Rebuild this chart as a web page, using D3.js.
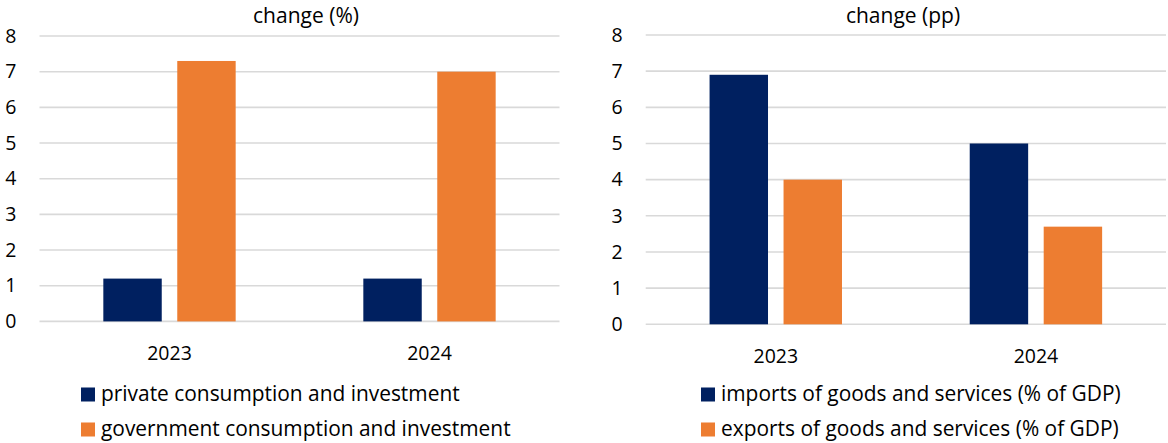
<!DOCTYPE html>
<html>
<head>
<meta charset="utf-8">
<script src="https://cdn.jsdelivr.net/npm/d3@7"></script>
<style>
  html, body { margin: 0; padding: 0; background: #ffffff; }
  svg { display: block; font-family: "Open Sans", Lato, sans-serif; }
</style>
</head>
<body>
<svg id="chart" width="1168" height="443"></svg>
<script>
// Years on the category axis
const years = ["2023", "2024"];
const yTicks = [0, 1, 2, 3, 4, 5, 6, 7, 8];

// Left panel: demand components, change (%)
const leftTitle = "change (%)";
const leftSeriesNames = ["private consumption and investment", "government consumption and investment"];
const privateConsInv = [1.2, 1.2];
const govConsInv = [7.3, 7.0];

// Right panel: trade, change (pp)
const rightTitle = "change (pp)";
const rightSeriesNames = ["imports of goods and services (% of GDP)", "exports of goods and services (% of GDP)"];
const importsGdp = [6.9, 5.0];
const exportsGdp = [4.0, 2.7];

const colors = ["#002060", "#ED7D31"];
const FONT = "'Open Sans', Lato, sans-serif";

const svg = d3.select("#chart");

function drawPanel(cfg) {
  const g = svg.append("g");
  const x = d3.scaleBand().domain(years).range([cfg.x0, cfg.x1])
    .paddingInner(0.491).paddingOuter(0.2455);
  const xs = d3.scaleBand().domain([0, 1]).range([0, x.bandwidth()])
    .paddingInner(0.21).paddingOuter(0);
  const y = d3.scaleLinear().domain([0, 8]).range([cfg.yBase, cfg.yTop]);

  // horizontal gridlines
  g.append("g").selectAll("line").data(yTicks).join("line")
    .attr("x1", cfg.x0).attr("x2", cfg.x1)
    .attr("y1", d => y(d)).attr("y2", d => y(d))
    .attr("stroke", "#d9d9d9").attr("stroke-width", 1.6);

  // y-axis labels
  const yAxis = d3.axisLeft(y).tickValues(yTicks).tickSize(0).tickPadding(23).tickFormat(d3.format("d"));
  const ya = g.append("g").attr("transform", `translate(${cfg.x0},0)`).call(yAxis);
  ya.attr("font-family", FONT).attr("font-size", 19.5);
  ya.select(".domain").remove();
  ya.selectAll("text").attr("fill", "#000");

  // x-axis labels
  const xAxis = d3.axisBottom(x).tickSize(0).tickPadding(0);
  const xa = g.append("g").attr("transform", `translate(0,${cfg.yBase})`).call(xAxis);
  xa.attr("font-family", FONT).attr("font-size", 19.5);
  xa.select(".domain").remove();
  xa.selectAll("text").attr("fill", "#000").attr("dy", null).attr("y", 39);

  // bars
  const rows = years.map((yr, i) => ({ yr, vals: cfg.series.map(s => s[i]) }));
  g.append("g").selectAll("g").data(rows).join("g")
    .attr("transform", d => `translate(${x(d.yr)},0)`)
    .selectAll("rect").data(d => d.vals.map((v, k) => ({ v, k }))).join("rect")
    .attr("x", d => xs(d.k)).attr("width", xs.bandwidth())
    .attr("y", d => y(d.v)).attr("height", d => y(0) - y(d.v))
    .attr("fill", d => colors[d.k]);

  // title
  g.append("text").attr("x", cfg.titleX).attr("y", 23)
    .attr("text-anchor", "middle").attr("font-size", 21).attr("fill", "#000")
    .attr("font-family", FONT)
    .text(cfg.title);

  // legend
  const leg = g.append("g").selectAll("g").data(cfg.names).join("g")
    .attr("transform", (d, i) => `translate(${cfg.legendX},${387.5 + i * 35})`);
  leg.append("rect").attr("width", 14).attr("height", 14).attr("fill", (d, i) => colors[i]);
  leg.append("text").attr("x", 20).attr("y", 13.5).attr("font-size", 20.9)
    .attr("font-family", FONT).attr("fill", "#000").text(d => d);
}

drawPanel({
  x0: 39.5, x1: 559.5, yBase: 321.4, yTop: 36,
  series: [privateConsInv, govConsInv], names: leftSeriesNames,
  title: leftTitle, titleX: 306, legendX: 81
});
drawPanel({
  x0: 645.7, x1: 1166, yBase: 324.3, yTop: 35,
  series: [importsGdp, exportsGdp], names: rightSeriesNames,
  title: rightTitle, titleX: 903, legendX: 701
});
</script>
</body>
</html>
